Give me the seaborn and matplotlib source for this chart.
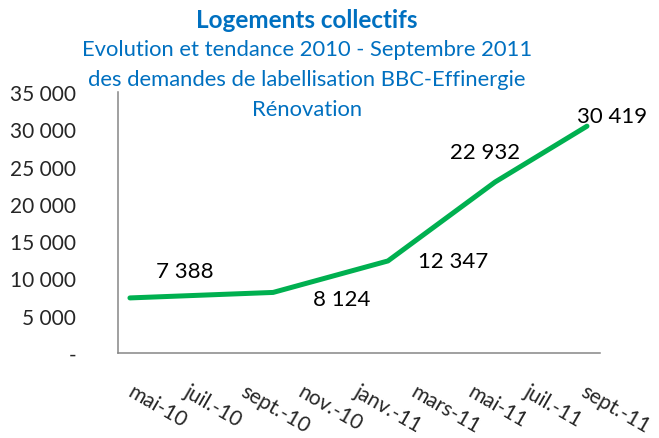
import matplotlib
matplotlib.use("Agg")
import matplotlib.pyplot as plt
import matplotlib.transforms as mtransforms
import seaborn as sns
import pandas as pd

# data (x = months after mai-10)
months = [0.42, 5.47, 9.52, 13.3, 16.54]
demandes = [7388, 8124, 12347, 22932, 30419]
value_labels = ["7 388", "8 124", "12 347", "22 932", "30 419"]
label_offsets = [(55, 27), (69, -7), (65, 0), (-10, 30), (25, 10)]  # pixels

tick_pos = [0, 2, 4, 6, 8, 10, 12, 14, 16]
tick_labels = ["mai-10", "juil.-10", "sept.-10", "nov.-10", "janv.-11",
               "mars-11", "mai-11", "juil.-11", "sept.-11"]
y_ticks = [0, 5000, 10000, 15000, 20000, 25000, 30000, 35000]
y_tick_labels = ["-", "5 000", "10 000", "15 000", "20 000", "25 000", "30 000", "35 000"]

sns.set_style("white")
plt.rcParams["font.family"] = ["Lato", "DejaVu Sans"]

df = pd.DataFrame({"mois": months, "demandes": demandes})

fig = plt.figure(figsize=(6.59, 4.39), dpi=100)
ax = fig.add_axes([0.1791, 0.1936, 0.7314, 0.5945])

sns.lineplot(data=df, x="mois", y="demandes", ax=ax, color="#00B050",
             linewidth=3.6, solid_capstyle="round")

for x, y, txt, off in zip(months, demandes, value_labels, label_offsets):
    ax.annotate(txt, xy=(x, y), xytext=off, textcoords="offset pixels",
                ha="center", va="center", fontsize=16, color="black")

ax.set_xlim(0, 17)
ax.set_ylim(0, 35000)
ax.set_xlabel("")
ax.set_ylabel("")

for side in ["top", "right"]:
    ax.spines[side].set_visible(False)
for side in ["left", "bottom"]:
    ax.spines[side].set_color("#868686")
    ax.spines[side].set_linewidth(1.1)
ax.tick_params(axis="x", direction="out", length=5, width=1.1, color="#868686", pad=15)
ax.tick_params(axis="y", direction="out", length=6, width=1.1, color="#868686", pad=24)

ax.set_xticks(tick_pos)
ax.set_xticklabels(tick_labels, rotation=-30, ha="left", va="top",
                   rotation_mode="anchor", fontsize=15)
ax.set_yticks(y_ticks)
ax.set_yticklabels(y_tick_labels, fontsize=15)

shift = mtransforms.ScaledTranslation(16 / 100, 0, fig.dpi_scale_trans)
for lab in ax.get_xticklabels():
    lab.set_transform(lab.get_transform() + shift)

blue = "#0070C0"
fig.text(0.466, 1 - 20 / 439, "Logements collectifs", ha="center", va="center",
         fontsize=17.5, fontweight="bold", color=blue)
fig.text(0.466, 1 - 50 / 439, "Evolution et tendance 2010 - Septembre 2011",
         ha="center", va="center", fontsize=15.8, color=blue)
fig.text(0.466, 1 - 80 / 439, "des demandes de labellisation BBC-Effinergie",
         ha="center", va="center", fontsize=15.8, color=blue)
fig.text(0.466, 1 - 110 / 439, "Rénovation", ha="center", va="center",
         fontsize=15.8, color=blue)

fig.savefig("out.png", dpi=100)
